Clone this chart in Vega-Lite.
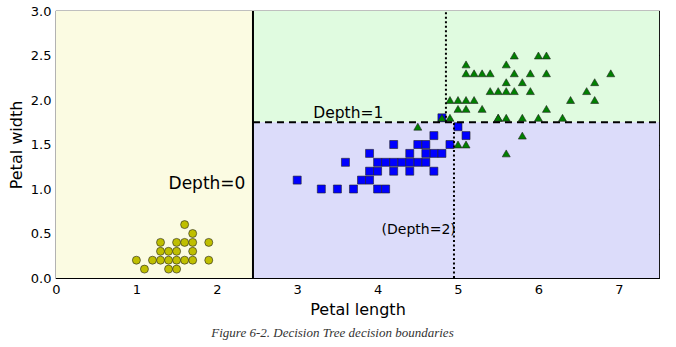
{
  "$schema": "https://vega.github.io/schema/vega-lite/v6.json",
  "autosize": {"type": "none"},
  "width": 603,
  "height": 267,
  "padding": {"left": 56, "top": 11, "right": 17, "bottom": 69},
  "background": "white",
  "config": {
    "view": {"stroke": "black", "strokeWidth": 1.2},
    "font": "DejaVu Sans",
    "axis": {"grid": false, "domain": false, "labelFlush": false, "labelOverlap": false, "zindex": 1, "labelFont": "DejaVu Sans", "titleFont": "DejaVu Sans", "labelColor": "black", "titleColor": "black", "titleFontWeight": "normal", "tickColor": "black", "tickWidth": 1, "labelFontSize": 13, "titleFontSize": 16}
  },
  "title": {"text": "Figure 6-2. Decision Tree decision boundaries", "orient": "bottom", "anchor": "middle", "font": "Liberation Serif", "fontStyle": "italic", "fontWeight": "normal", "fontSize": 13, "color": "#333333", "offset": 10, "dx": -25},
  "datasets": {
    "regions": [
      {"region": "yellow", "x": 0, "x2": 2.45, "y": 0, "y2": 3},
      {"region": "green", "x": 2.45, "x2": 7.5, "y": 1.75, "y2": 3},
      {"region": "blue", "x": 2.45, "x2": 7.5, "y": 0, "y2": 1.75}
    ],
    "iris": [
      {"species": "setosa", "len": 1.0, "wid": 0.2},
      {"species": "setosa", "len": 1.1, "wid": 0.1},
      {"species": "setosa", "len": 1.2, "wid": 0.2},
      {"species": "setosa", "len": 1.3, "wid": 0.2},
      {"species": "setosa", "len": 1.3, "wid": 0.3},
      {"species": "setosa", "len": 1.3, "wid": 0.4},
      {"species": "setosa", "len": 1.4, "wid": 0.1},
      {"species": "setosa", "len": 1.4, "wid": 0.2},
      {"species": "setosa", "len": 1.4, "wid": 0.3},
      {"species": "setosa", "len": 1.5, "wid": 0.1},
      {"species": "setosa", "len": 1.5, "wid": 0.2},
      {"species": "setosa", "len": 1.5, "wid": 0.3},
      {"species": "setosa", "len": 1.5, "wid": 0.4},
      {"species": "setosa", "len": 1.6, "wid": 0.2},
      {"species": "setosa", "len": 1.6, "wid": 0.4},
      {"species": "setosa", "len": 1.6, "wid": 0.6},
      {"species": "setosa", "len": 1.7, "wid": 0.2},
      {"species": "setosa", "len": 1.7, "wid": 0.3},
      {"species": "setosa", "len": 1.7, "wid": 0.4},
      {"species": "setosa", "len": 1.7, "wid": 0.5},
      {"species": "setosa", "len": 1.9, "wid": 0.2},
      {"species": "setosa", "len": 1.9, "wid": 0.4},
      {"species": "versicolor", "len": 4.7, "wid": 1.4},
      {"species": "versicolor", "len": 4.5, "wid": 1.5},
      {"species": "versicolor", "len": 4.9, "wid": 1.5},
      {"species": "versicolor", "len": 4.0, "wid": 1.3},
      {"species": "versicolor", "len": 4.6, "wid": 1.5},
      {"species": "versicolor", "len": 4.5, "wid": 1.3},
      {"species": "versicolor", "len": 4.7, "wid": 1.6},
      {"species": "versicolor", "len": 3.3, "wid": 1.0},
      {"species": "versicolor", "len": 4.6, "wid": 1.3},
      {"species": "versicolor", "len": 3.9, "wid": 1.4},
      {"species": "versicolor", "len": 3.5, "wid": 1.0},
      {"species": "versicolor", "len": 4.2, "wid": 1.5},
      {"species": "versicolor", "len": 4.0, "wid": 1.0},
      {"species": "versicolor", "len": 3.6, "wid": 1.3},
      {"species": "versicolor", "len": 4.4, "wid": 1.4},
      {"species": "versicolor", "len": 4.1, "wid": 1.0},
      {"species": "versicolor", "len": 3.9, "wid": 1.1},
      {"species": "versicolor", "len": 4.8, "wid": 1.8},
      {"species": "versicolor", "len": 4.7, "wid": 1.2},
      {"species": "versicolor", "len": 4.3, "wid": 1.3},
      {"species": "versicolor", "len": 4.8, "wid": 1.4},
      {"species": "versicolor", "len": 5.0, "wid": 1.7},
      {"species": "versicolor", "len": 3.8, "wid": 1.1},
      {"species": "versicolor", "len": 3.7, "wid": 1.0},
      {"species": "versicolor", "len": 3.9, "wid": 1.2},
      {"species": "versicolor", "len": 5.1, "wid": 1.6},
      {"species": "versicolor", "len": 4.4, "wid": 1.3},
      {"species": "versicolor", "len": 4.1, "wid": 1.3},
      {"species": "versicolor", "len": 4.4, "wid": 1.2},
      {"species": "versicolor", "len": 4.6, "wid": 1.4},
      {"species": "versicolor", "len": 4.0, "wid": 1.2},
      {"species": "versicolor", "len": 4.2, "wid": 1.3},
      {"species": "versicolor", "len": 4.2, "wid": 1.2},
      {"species": "versicolor", "len": 3.0, "wid": 1.1},
      {"species": "virginica", "len": 6.0, "wid": 2.5},
      {"species": "virginica", "len": 5.1, "wid": 1.9},
      {"species": "virginica", "len": 5.9, "wid": 2.1},
      {"species": "virginica", "len": 5.6, "wid": 1.8},
      {"species": "virginica", "len": 5.8, "wid": 2.2},
      {"species": "virginica", "len": 6.6, "wid": 2.1},
      {"species": "virginica", "len": 4.5, "wid": 1.7},
      {"species": "virginica", "len": 6.3, "wid": 1.8},
      {"species": "virginica", "len": 5.8, "wid": 1.8},
      {"species": "virginica", "len": 6.1, "wid": 2.5},
      {"species": "virginica", "len": 5.1, "wid": 2.0},
      {"species": "virginica", "len": 5.3, "wid": 1.9},
      {"species": "virginica", "len": 5.5, "wid": 2.1},
      {"species": "virginica", "len": 5.0, "wid": 2.0},
      {"species": "virginica", "len": 5.1, "wid": 2.4},
      {"species": "virginica", "len": 5.3, "wid": 2.3},
      {"species": "virginica", "len": 5.5, "wid": 1.8},
      {"species": "virginica", "len": 6.7, "wid": 2.2},
      {"species": "virginica", "len": 6.9, "wid": 2.3},
      {"species": "virginica", "len": 5.0, "wid": 1.5},
      {"species": "virginica", "len": 5.7, "wid": 2.3},
      {"species": "virginica", "len": 4.9, "wid": 2.0},
      {"species": "virginica", "len": 6.7, "wid": 2.0},
      {"species": "virginica", "len": 4.9, "wid": 1.8},
      {"species": "virginica", "len": 5.7, "wid": 2.1},
      {"species": "virginica", "len": 6.0, "wid": 1.8},
      {"species": "virginica", "len": 4.8, "wid": 1.8},
      {"species": "virginica", "len": 5.6, "wid": 2.1},
      {"species": "virginica", "len": 5.8, "wid": 1.6},
      {"species": "virginica", "len": 6.1, "wid": 1.9},
      {"species": "virginica", "len": 6.4, "wid": 2.0},
      {"species": "virginica", "len": 5.6, "wid": 2.2},
      {"species": "virginica", "len": 5.1, "wid": 1.5},
      {"species": "virginica", "len": 5.6, "wid": 1.4},
      {"species": "virginica", "len": 6.1, "wid": 2.3},
      {"species": "virginica", "len": 5.6, "wid": 2.4},
      {"species": "virginica", "len": 5.5, "wid": 1.8},
      {"species": "virginica", "len": 5.4, "wid": 2.1},
      {"species": "virginica", "len": 5.1, "wid": 2.3},
      {"species": "virginica", "len": 5.9, "wid": 2.3},
      {"species": "virginica", "len": 5.7, "wid": 2.5},
      {"species": "virginica", "len": 5.2, "wid": 2.3},
      {"species": "virginica", "len": 5.0, "wid": 1.9},
      {"species": "virginica", "len": 5.2, "wid": 2.0},
      {"species": "virginica", "len": 5.4, "wid": 2.3}
    ],
    "solid": [{"x": 2.45, "x2": 2.45, "y": 0, "y2": 3}],
    "dashed": [{"x": 2.45, "x2": 7.5, "y": 1.75, "y2": 1.75}],
    "dotted": [
      {"x": 4.95, "x2": 4.95, "y": 0, "y2": 1.75},
      {"x": 4.85, "x2": 4.85, "y": 1.75, "y2": 3}
    ],
    "labels": [
      {"label": "Depth=0", "x": 1.40, "y": 1.0, "fs": "big"},
      {"label": "Depth=1", "x": 3.2, "y": 1.80, "fs": "mid"},
      {"label": "(Depth=2)", "x": 4.05, "y": 0.5, "fs": "small"}
    ]
  },
  "resolve": {"axis": {"x": "independent", "y": "independent"}},
  "layer": [
    {
      "data": {"name": "regions"},
      "mark": {"type": "rect", "strokeWidth": 0},
      "encoding": {
        "x": {"field": "x", "type": "quantitative", "scale": {"domain": [0, 7.5], "nice": false, "zero": false},
              "axis": {"title": "Petal length", "values": [0, 1, 2, 3, 4, 5, 6, 7], "format": "d", "tickSize": -5, "labelPadding": 10, "titlePadding": 5}},
        "x2": {"field": "x2"},
        "y": {"field": "y", "type": "quantitative", "scale": {"domain": [0, 3], "nice": false, "zero": false},
              "axis": {"title": "Petal width", "values": [0, 0.5, 1, 1.5, 2, 2.5, 3], "format": ".1f", "tickSize": -5, "labelPadding": 10, "titlePadding": 6}},
        "y2": {"field": "y2"},
        "fill": {"field": "region", "type": "nominal", "scale": {"domain": ["yellow", "green", "blue"], "range": ["#fbfbe2", "#e0fbe0", "#dcdcfa"]}, "legend": null}
      }
    },
    {
      "data": {"name": "regions"},
      "mark": {"type": "point", "opacity": 0},
      "encoding": {
        "x": {"field": "x", "type": "quantitative", "axis": {"title": null, "labels": false, "orient": "top", "values": [0, 1, 2, 3, 4, 5, 6, 7], "tickSize": -5}},
        "y": {"field": "y", "type": "quantitative", "axis": {"title": null, "labels": false, "orient": "right", "values": [0, 0.5, 1, 1.5, 2, 2.5, 3], "tickSize": -5}}
      }
    },
    {
      "data": {"name": "iris"},
      "mark": {"type": "point", "filled": true, "stroke": "#222222", "strokeWidth": 0.6, "opacity": 1},
      "encoding": {
        "x": {"field": "len", "type": "quantitative", "axis": null},
        "y": {"field": "wid", "type": "quantitative", "axis": null},
        "color": {"field": "species", "type": "nominal", "scale": {"domain": ["setosa", "versicolor", "virginica"], "range": ["#bfbf00", "#0000ff", "#008000"]}, "legend": null},
        "shape": {"field": "species", "type": "nominal", "scale": {"domain": ["setosa", "versicolor", "virginica"], "range": ["circle", "square", "triangle-up"]}, "legend": null},
        "size": {"value": 64}
      }
    },
    {
      "data": {"name": "solid"},
      "mark": {"type": "rule", "color": "black", "strokeWidth": 2},
      "encoding": {
        "x": {"field": "x", "type": "quantitative", "axis": null},
        "x2": {"field": "x2"},
        "y": {"field": "y", "type": "quantitative", "axis": null},
        "y2": {"field": "y2"}
      }
    },
    {
      "data": {"name": "dashed"},
      "mark": {"type": "rule", "color": "black", "strokeWidth": 2, "strokeDash": [7, 5]},
      "encoding": {
        "x": {"field": "x", "type": "quantitative", "axis": null},
        "x2": {"field": "x2"},
        "y": {"field": "y", "type": "quantitative", "axis": null},
        "y2": {"field": "y2"}
      }
    },
    {
      "data": {"name": "dotted"},
      "mark": {"type": "rule", "color": "black", "strokeWidth": 2, "strokeDash": [2, 2.5]},
      "encoding": {
        "x": {"field": "x", "type": "quantitative", "axis": null},
        "x2": {"field": "x2"},
        "y": {"field": "y", "type": "quantitative", "axis": null},
        "y2": {"field": "y2"}
      }
    },
    {
      "data": {"name": "labels"},
      "mark": {"type": "text", "align": "left", "baseline": "alphabetic", "font": "DejaVu Sans", "color": "black"},
      "encoding": {
        "x": {"field": "x", "type": "quantitative", "axis": null},
        "y": {"field": "y", "type": "quantitative", "axis": null},
        "text": {"field": "label"},
        "size": {"field": "fs", "type": "nominal", "scale": {"domain": ["big", "mid", "small"], "range": [17, 14, 11.5]}, "legend": null}
      }
    }
  ]
}
